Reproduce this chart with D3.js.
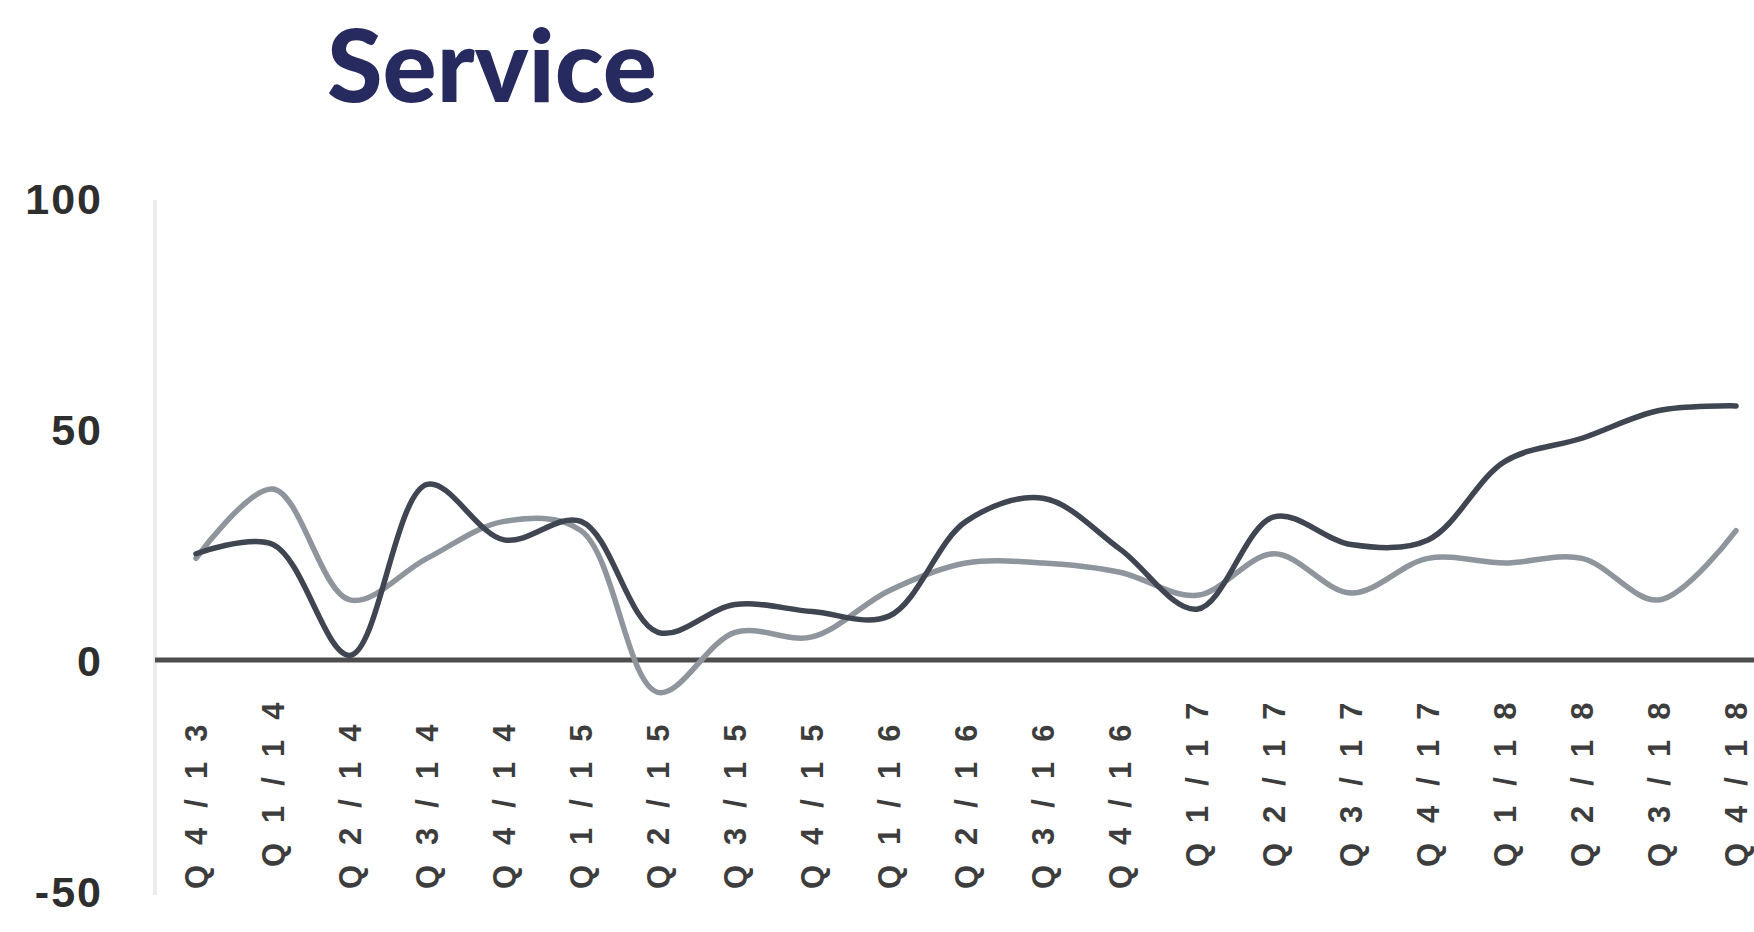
<!DOCTYPE html>
<html>
<head>
<meta charset="utf-8">
<script src="https://cdn.jsdelivr.net/npm/d3@7"></script>
<style>
  html, body { margin: 0; padding: 0; background: #ffffff; }
  svg { display: block; }
</style>
</head>
<body>
<svg id="chart" width="1754" height="932"></svg>
<script>
// Quarterly service balance, two smoothed series
const quarters = ["Q4/13","Q1/14","Q2/14","Q3/14","Q4/14","Q1/15","Q2/15","Q3/15","Q4/15",
                  "Q1/16","Q2/16","Q3/16","Q4/16","Q1/17","Q2/17","Q3/17","Q4/17",
                  "Q1/18","Q2/18","Q3/18","Q4/18"];
const darkSeries  = [23, 25, 1, 38, 26, 30, 6, 12, 10.5, 9.5, 30, 35, 24, 11, 31, 25, 26, 43, 48, 54, 55];
const lightSeries = [22, 37, 13, 22, 30, 28, -7, 6, 5, 15, 21, 21, 19, 14, 23, 14.5, 22, 21, 22, 13, 28];
const yTicks = [100, 50, 0, -50];
const titleText = "Service";
// labels drawn a little higher than the rest
const raisedLabels = ["Q1/14","Q1/17","Q2/17","Q3/17","Q4/17","Q1/18","Q2/18","Q3/18","Q4/18"];

const svg = d3.select("#chart");

const x = d3.scalePoint().domain(quarters).range([196, 1736]);
const y = d3.scaleLinear().domain([-50, 100]).range([891, 198]);

// title
svg.append("text")
  .attr("x", 327).attr("y", 102)
  .attr("font-family", "Lato, 'Open Sans', sans-serif")
  .attr("font-weight", 900)
  .attr("font-size", 101)
  .attr("fill", "#262a5e")
  .text(titleText);

// faint vertical axis
svg.append("line")
  .attr("x1", 155).attr("x2", 155)
  .attr("y1", y(100) + 2).attr("y2", y(-50) + 4)
  .attr("stroke", "#ececec").attr("stroke-width", 4);

// y tick labels (plain hyphen for negatives)
const yAxis = d3.axisLeft(y).tickValues(yTicks).tickSize(0).tickPadding(0)
  .tickFormat(d => String(d));
const yG = svg.append("g").attr("transform", "translate(103,0)").call(yAxis);
yG.select(".domain").remove();
yG.selectAll("text")
  .attr("font-family", "'Liberation Sans', Arial, sans-serif")
  .attr("font-size", 43)
  .attr("font-weight", "bold")
  .attr("letter-spacing", 2)
  .attr("fill", "#2e2e2e")
  .attr("dy", "0.36em");

// zero line
svg.append("line")
  .attr("x1", 155).attr("x2", 1754)
  .attr("y1", y(0)).attr("y2", y(0))
  .attr("stroke", "#4d4d4d").attr("stroke-width", 5);

// x labels, rotated to read bottom-to-top
svg.append("g").selectAll("text").data(quarters).join("text")
  .attr("transform", d => `translate(${x(d)},${raisedLabels.includes(d) ? 867 : 889}) rotate(-90)`)
  .attr("dy", "0.36em")
  .attr("text-anchor", "start")
  .attr("font-family", "'Liberation Sans', Arial, sans-serif")
  .attr("font-size", 31)
  .attr("font-weight", "bold")
  .attr("letter-spacing", 20)
  .attr("fill", "#3d3d3d")
  .text(d => d);

const line = d3.line()
  .x((d, i) => x(quarters[i]))
  .y(d => y(d))
  .curve(d3.curveCatmullRom.alpha(0.5));

svg.append("path")
  .datum(lightSeries)
  .attr("d", line)
  .attr("fill", "none")
  .attr("stroke", "#8f959d")
  .attr("stroke-width", 5.5)
  .attr("stroke-linejoin", "round")
  .attr("stroke-linecap", "round");

svg.append("path")
  .datum(darkSeries)
  .attr("d", line)
  .attr("fill", "none")
  .attr("stroke", "#3f4651")
  .attr("stroke-width", 5.5)
  .attr("stroke-linejoin", "round")
  .attr("stroke-linecap", "round");
</script>
</body>
</html>
